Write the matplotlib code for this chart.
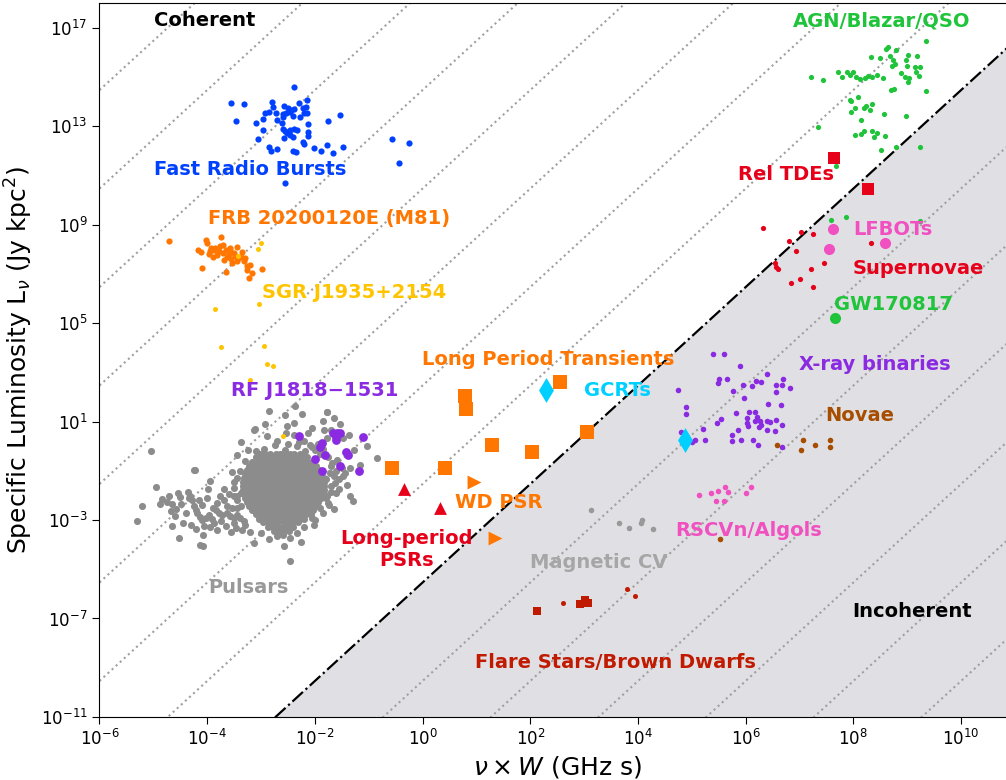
import numpy as np
import matplotlib
matplotlib.use("Agg")
import matplotlib.pyplot as plt
from matplotlib.ticker import FixedLocator, NullLocator

# all values are (log10 nu*W [GHz s], log10 L [Jy kpc^2])
frb = [(-2.38, 14.58), (-3.56, 13.93), (-3.32, 13.90), (-2.80, 13.97), (-2.77, 13.79), (-2.58, 13.82),
       (-2.50, 13.73), (-2.44, 13.66), (-2.38, 13.69), (-2.30, 13.95), (-2.14, 14.06), (-2.17, 13.79),
       (-2.22, 13.74), (-2.20, 13.52), (-2.15, 13.52), (-2.86, 13.58), (-2.93, 13.52), (-2.72, 13.52),
       (-2.60, 13.47), (-2.53, 13.52), (-2.46, 13.56), (-2.96, 13.28), (-2.70, 13.25), (-2.59, 13.36),
       (-2.41, 13.39), (-2.27, 13.35), (-3.46, 13.22), (-3.10, 13.12), (-2.62, 13.12), (-2.12, 13.08),
       (-1.75, 13.22), (-1.54, 13.44), (-2.96, 12.85), (-2.60, 12.87), (-2.55, 12.78), (-2.46, 12.85),
       (-2.38, 12.87), (-2.33, 12.85), (-2.52, 12.71), (-2.46, 12.64), (-2.57, 12.51), (-2.41, 12.55),
       (-2.12, 12.74), (-2.13, 12.58), (-3.06, 12.47), (-2.23, 12.37), (-2.21, 12.26), (-2.86, 12.13),
       (-2.82, 11.99), (-2.71, 12.06), (-2.41, 11.99), (-2.36, 11.93), (-2.01, 12.09), (-1.88, 11.99),
       (-1.78, 12.22), (-1.67, 11.91), (-1.48, 12.16), (-2.56, 10.68), (-0.56, 12.47), (-0.25, 12.33),
       (-0.43, 11.48)]

m81 = [(-4.70, 8.35), (-4.03, 8.38), (-4.00, 8.27), (-3.74, 8.49), (-4.18, 7.98), (-4.11, 7.87),
       (-3.97, 7.81), (-3.93, 8.04), (-3.88, 7.95), (-3.82, 7.77), (-3.76, 8.11), (-3.71, 8.18),
       (-3.66, 7.95), (-3.63, 7.70), (-3.57, 8.04), (-3.51, 7.84), (-3.45, 8.08), (-3.42, 7.64),
       (-3.35, 7.87), (-3.32, 7.50), (-3.54, 7.43), (-3.45, 7.50), (-3.27, 7.33), (-3.21, 7.37),
       (-3.26, 7.16), (-3.17, 7.03), (-3.23, 6.83), (-2.99, 7.19), (-4.09, 7.23), (-3.66, 7.06),
       (-3.79, 7.91), (-3.60, 7.81), (-3.69, 7.57), (-3.38, 7.70), (-3.94, 7.91), (-3.85, 8.05),
       (-3.58, 7.95), (-3.48, 7.72), (-3.70, 7.85), (-3.90, 7.70), (-3.30, 7.65), (-3.55, 7.60)]

sgr = [(-3.01, 8.27), (-3.06, 8.00), (-3.04, 5.76), (-3.85, 5.57), (-3.75, 4.01), (-2.94, 4.05),
       (-2.89, 3.34), (-2.77, 3.24), (-3.20, 2.70), (-2.59, 0.40), (-3.42, 7.73)]

rfj = [(-2.30, 0.40), (-1.67, 0.53), (-1.59, 0.53), (-1.54, 0.53), (-1.60, 0.24), (-1.87, 0.13),
       (-1.90, -0.03), (-1.42, -0.25), (-1.39, -0.34), (-1.81, -0.37), (-2.00, -0.52), (-1.54, -0.82),
       (-1.86, -1.02), (-1.18, -1.02), (-1.10, 0.37), (-1.60, 0.37)]

psr_outer = [(-5.30, -3.05), (-5.21, -2.44), (-5.05, -0.18), (-4.95, -1.67), (-4.83, -2.13), (-4.70, -2.04),
             (-4.66, -2.37), (-4.67, -2.64), (-4.65, -3.25), (-4.54, -1.90), (-4.52, -3.73), (-4.45, -3.12),
             (-4.33, -2.10), (-4.31, -3.19), (-4.24, -0.98), (-4.20, -2.58), (-4.16, -2.17), (-4.13, -4.03),
             (-4.08, -4.07), (-4.08, -3.59), (-4.06, -3.25), (-3.97, -2.78), (-3.94, -1.43), (-3.84, -2.58),
             (-3.82, -3.39), (-3.72, -2.78), (-3.69, -2.17), (-3.63, -2.71), (-3.51, -1.47), (-3.50, -2.91),
             (-3.46, -3.32), (-3.45, -2.04), (-4.32, -2.04), (-4.28, -2.17), (-4.19, -2.71), (-4.14, -2.87),
             (-4.09, -2.98), (-4.03, -2.91), (-3.91, -2.95), (-3.88, -3.12), (-3.82, -2.30), (-3.77, -2.04),
             (-3.69, -1.76), (-3.63, -2.44), (-3.58, -2.85), (-3.54, -2.51), (-3.51, -2.04), (-3.51, -3.12),
             (-3.45, -2.17), (-3.45, -2.78), (-3.38, -1.90), (-3.38, -2.44), (-3.35, -3.39), (-3.32, -3.05),
             (-4.75, -2.25), (-4.58, -2.55), (-4.48, -2.35), (-4.40, -2.70), (-4.36, -1.85), (-4.25, -2.45),
             (-4.10, -2.40), (-4.00, -2.10), (-3.95, -3.30), (-3.90, -2.50), (-3.78, -2.70), (-3.74, -3.05),
             (-3.66, -3.25), (-3.60, -1.95), (-3.55, -3.50), (-4.60, -2.85), (-4.88, -2.35), (-4.50, -2.05),
             (-4.20, -3.35), (-3.98, -1.75),
             (-2.85, 1.41), (-2.55, 1.28), (-2.24, 1.32), (-1.78, 1.37), (-1.65, 1.14), (-1.54, 0.90),
             (-1.85, 1.01), (-2.05, 0.74), (-2.12, 0.53), (-2.39, 0.94), (-2.52, 0.81), (-3.12, 0.70),
             (-2.92, 0.91), (-2.89, 0.43), (-2.70, 0.20), (-2.53, 0.53), (-2.55, -0.14), (-2.38, 0.47),
             (-2.33, -0.01), (-2.21, 0.20), (-2.18, -0.21), (-2.09, 0.06), (-1.99, -0.14), (-1.84, 0.67),
             (-1.78, 0.33), (-1.71, 0.67), (-1.47, 0.33), (-1.37, 0.47), (-1.28, -0.14), (-1.16, -0.75),
             (-1.03, -0.01), (-0.85, -0.48), (-3.37, 0.16), (-3.24, -0.14), (-3.45, -0.38), (-3.54, -1.06),
             (-4.23, -0.98), (-1.29, -2.21), (-1.73, -2.39), (-2.02, -3.19), (-2.25, -3.90), (-2.58, -4.07),
             (-2.33, -3.52), (-2.86, -3.79), (-3.01, -3.52), (-3.14, -3.93), (-2.70, -3.66), (-2.46, -3.73),
             (-2.55, -3.39), (-2.21, -2.71), (-2.05, -2.91), (-1.71, -1.63), (-1.56, -1.76), (-1.47, -1.22),
             (-1.40, -1.56), (-1.65, -1.22), (-1.34, -0.89), (-1.59, -0.55), (-1.71, -0.82), (-1.34, -2.04),
             (-1.78, -2.04), (-2.46, -4.67), (-2.37, 1.64), (-3.14, 0.67), (-1.78, 1.39),
             (-1.75, -0.45), (-1.68, -0.70), (-1.60, -1.00), (-1.72, -1.10), (-1.55, -1.35), (-1.80, -1.35),
             (-1.62, -1.50), (-1.50, -0.90), (-1.45, -1.10), (-1.70, -1.85), (-1.60, -1.90), (-1.75, -2.30),
             (-1.65, -2.55), (-1.85, -2.70), (-1.90, -0.30), (-1.85, -0.10), (-1.95, 0.10), (-2.05, -0.05),
             (-2.30, 0.15), (-2.50, 0.10), (-2.75, 0.05), (-2.95, -0.10), (-3.10, -0.20), (-3.30, -0.60),
             (-3.40, -1.00), (-3.45, -1.30), (-3.50, -1.70), (-3.45, -2.50), (-3.40, -2.90), (-3.30, -3.20),
             (-3.20, -3.50), (-2.60, -3.60), (-2.20, -3.30), (-2.00, -3.00), (-1.90, -2.50), (-1.80, -2.10)]

# dense pulsar core, one row of log L per entry
psr_core_y = [-0.30, -0.46, -0.63, -0.79, -0.96, -1.12, -1.29, -1.45, -1.62, -1.78,
              -1.95, -2.11, -2.28, -2.44, -2.61, -2.77, -2.94, -3.10, -3.27, -3.43]
psr_core_x = [
    [-3.02, -2.92, -2.84, -2.73, -2.65, -2.55, -2.46, -2.38, -2.28, -2.21],
    [-3.10, -3.00, -2.91, -2.81, -2.72, -2.62, -2.53, -2.44, -2.35, -2.25, -2.15],
    [-3.16, -3.06, -2.97, -2.87, -2.78, -2.68, -2.59, -2.50, -2.40, -2.31, -2.21, -2.12, -2.04],
    [-3.22, -3.12, -3.03, -2.93, -2.84, -2.74, -2.65, -2.56, -2.46, -2.37, -2.27, -2.18, -2.08, -1.98],
    [-3.26, -3.16, -3.07, -2.98, -2.88, -2.79, -2.69, -2.60, -2.51, -2.41, -2.32, -2.22, -2.13, -2.03, -1.93],
    [-3.29, -3.20, -3.10, -3.01, -2.91, -2.82, -2.73, -2.63, -2.54, -2.44, -2.35, -2.26, -2.16, -2.07, -1.97, -1.89],
    [-3.31, -3.22, -3.13, -3.03, -2.94, -2.84, -2.75, -2.66, -2.56, -2.47, -2.37, -2.28, -2.19, -2.09, -2.00, -1.91, -1.84],
    [-3.33, -3.24, -3.14, -3.05, -2.95, -2.86, -2.77, -2.67, -2.58, -2.48, -2.39, -2.30, -2.20, -2.11, -2.01, -1.92, -1.83],
    [-3.34, -3.25, -3.15, -3.06, -2.97, -2.87, -2.78, -2.68, -2.59, -2.50, -2.40, -2.31, -2.21, -2.12, -2.03, -1.93, -1.84],
    [-3.33, -3.24, -3.14, -3.05, -2.96, -2.86, -2.77, -2.67, -2.58, -2.49, -2.39, -2.30, -2.20, -2.11, -2.02, -1.92, -1.83],
    [-3.32, -3.23, -3.13, -3.04, -2.94, -2.85, -2.76, -2.66, -2.57, -2.47, -2.38, -2.29, -2.19, -2.10, -2.00, -1.91, -1.83],
    [-3.30, -3.20, -3.11, -3.01, -2.92, -2.83, -2.73, -2.64, -2.54, -2.45, -2.36, -2.26, -2.17, -2.07, -1.98, -1.88],
    [-3.26, -3.17, -3.07, -2.98, -2.89, -2.79, -2.70, -2.60, -2.51, -2.42, -2.32, -2.23, -2.13, -2.04, -1.94],
    [-3.22, -3.12, -3.03, -2.94, -2.84, -2.75, -2.65, -2.56, -2.47, -2.37, -2.28, -2.18, -2.09, -2.00],
    [-3.16, -3.07, -2.97, -2.88, -2.78, -2.69, -2.60, -2.50, -2.41, -2.31, -2.22, -2.13, -2.04],
    [-3.10, -3.00, -2.91, -2.82, -2.72, -2.63, -2.53, -2.44, -2.35, -2.25, -2.16, -2.08],
    [-3.04, -2.94, -2.85, -2.75, -2.66, -2.57, -2.47, -2.38, -2.28, -2.20],
    [-2.96, -2.87, -2.77, -2.68, -2.58, -2.49, -2.40, -2.31],
    [-2.88, -2.78, -2.69, -2.60, -2.50, -2.41],
    [-2.76, -2.67, -2.57, -2.48],
]

lpt = [(0.78, 2.05), (0.81, 1.52), (2.55, 2.59), (1.29, 0.06), (2.03, -0.22), (3.05, 0.59),
       (0.41, -0.87), (-0.56, -0.87)]
lp_psr = [(-0.34, -1.76), (0.33, -2.51)]
wd_psr = [(0.96, -1.45), (1.35, -3.75)]
gcrt = [(2.29, 2.27), (4.88, 0.26)]

agn = [(9.34, 16.47), (8.64, 16.20), (8.61, 16.12), (8.32, 15.80), (8.49, 15.75), (8.68, 15.85),
       (8.74, 15.69), (8.80, 16.09), (9.02, 15.89), (9.19, 15.86), (8.97, 15.69), (8.71, 15.42),
       (8.78, 15.52), (8.99, 15.44), (9.15, 15.38), (9.24, 15.38), (8.89, 15.15), (8.95, 15.01),
       (9.03, 14.94), (9.01, 14.81), (9.17, 15.21), (9.22, 15.04), (7.22, 15.01), (7.43, 14.87),
       (7.72, 15.21), (7.78, 15.01), (7.89, 15.21), (7.93, 15.08), (7.99, 15.21), (8.04, 15.01),
       (8.12, 14.90), (8.21, 14.94), (8.27, 15.05), (8.34, 15.01), (8.43, 15.08), (8.55, 14.94),
       (8.69, 14.47), (8.76, 14.51), (9.34, 14.44), (7.93, 14.06), (7.96, 14.02), (8.09, 14.20),
       (8.03, 13.73), (7.96, 13.59), (8.20, 13.75), (8.24, 13.82), (8.35, 13.90), (8.30, 13.66),
       (8.57, 13.48), (8.97, 13.39), (8.15, 13.25), (7.35, 12.98), (8.03, 12.64), (8.15, 12.67),
       (8.20, 12.78), (8.34, 12.78), (8.38, 12.55), (8.43, 12.71), (8.58, 12.58), (8.51, 12.01),
       (8.79, 12.13), (9.24, 12.13), (7.67, 11.36), (7.58, 9.19), (7.87, 9.29), (9.23, 9.16)]
rel_tde = [(7.64, 11.70), (8.27, 10.44)]
lfbot = [(7.62, 8.83), (7.54, 8.00), (8.58, 8.25)]
gw = [(7.66, 5.19)]
sne = [(6.33, 8.84), (7.02, 8.68), (7.25, 8.61), (6.81, 8.35), (6.93, 7.91), (6.54, 7.43),
       (6.57, 7.27), (6.60, 7.19), (7.21, 7.19), (7.45, 7.43), (6.84, 6.62), (7.01, 6.77),
       (7.25, 6.45), (8.32, 8.25)]

xrb = [(5.39, 3.75), (5.60, 3.75), (5.90, 3.24), (6.39, 2.93), (5.51, 2.74), (5.49, 2.56),
       (5.66, 2.73), (5.95, 2.47), (6.12, 2.43), (6.20, 2.66), (6.28, 2.59), (6.57, 2.47),
       (6.67, 2.50), (6.70, 2.71), (6.83, 2.35), (6.56, 2.19), (5.76, 2.23), (5.97, 1.96),
       (4.75, 2.28), (4.90, 1.58), (4.89, 1.31), (6.42, 1.73), (6.65, 1.69), (5.82, 1.35),
       (6.07, 1.37), (6.18, 1.37), (6.21, 1.19), (6.03, 1.15), (5.54, 1.10), (5.47, 0.94),
       (6.02, 0.94), (6.05, 0.81), (6.17, 1.01), (6.26, 1.01), (6.39, 1.01), (6.45, 0.97),
       (6.57, 1.05), (6.67, 0.86), (6.25, 0.78), (6.28, 0.87), (6.39, 0.64), (6.54, 0.62),
       (5.85, 0.67), (5.21, 0.70), (4.79, 0.56), (5.06, 0.26), (5.24, 0.26), (5.74, 0.45),
       (5.74, 0.22), (5.91, 0.24), (6.14, 0.24), (6.22, 0.05), (6.68, -0.02), (5.00, 0.15)]
novae = [(6.58, 0.06), (7.02, -0.15), (7.07, 0.24), (7.29, 0.03), (7.57, 0.26), (7.57, -0.02),
         (5.53, -3.78)]
rscvn = [(5.13, -1.99), (5.35, -1.90), (5.49, -1.82), (5.62, -1.64), (5.67, -1.87), (5.45, -2.24),
         (5.60, -2.21), (6.01, -1.91), (6.09, -1.66)]
mcv = [(3.13, -2.59), (3.64, -3.12), (3.84, -3.33), (4.05, -3.12), (4.08, -2.98), (4.27, -3.36)]
flare_sq = [(2.13, -6.69), (2.92, -6.43), (3.02, -6.23), (3.08, -6.36)]
flare_dot = [(2.61, -6.36), (3.79, -5.80), (3.95, -6.09)]

# brightness temperature lines, log10 T_B [K]
tb_coherent = 12
tb_dotted = [-16, -12, -8, -4, 0, 4, 8, 16, 20, 24, 28, 32, 36, 40, 44]

x_ticks = [1e-6, 1e-4, 1e-2, 1e0, 1e2, 1e4, 1e6, 1e8, 1e10]
y_ticks = [1e-11, 1e-7, 1e-3, 1e1, 1e5, 1e9, 1e13, 1e17]

blue = '#0040ff'
orange = '#ff7700'
gold = '#ffc400'
purple = '#8a2be2'
grey = '#8c8c8c'
red = '#e6001a'
cyan = '#00d0ff'
green = '#1fc43a'
pink = '#f050c0'
brown = '#a64d00'
darkred = '#c01a00'

labels = [
    ("Coherent", -4.98, 17.29, 'black', 'left'),
    ("Fast Radio Bursts", -3.21, 11.24, blue, 'center'),
    ("FRB 20200120E (M81)", -3.98, 9.23, orange, 'left'),
    ("SGR J1935+2154", -2.98, 6.25, gold, 'left'),
    ("RF J1818\u22121531", -2.01, 2.27, purple, 'center'),
    ("Pulsars", -3.24, -5.74, '#999999', 'center'),
    ("Long-period\nPSRs", -0.30, -4.20, red, 'center'),
    ("Long Period Transients", 2.33, 3.53, orange, 'center'),
    ("GCRTs", 3.61, 2.25, cyan, 'center'),
    ("WD PSR", 1.42, -2.29, orange, 'center'),
    ("Magnetic CV", 3.28, -4.73, '#a6a6a6', 'center'),
    ("Flare Stars/Brown Dwarfs", 3.59, -8.77, darkred, 'center'),
    ("Incoherent", 9.09, -6.72, 'black', 'center'),
    ("AGN/Blazar/QSO", 8.53, 17.25, green, 'center'),
    ("Rel TDEs", 6.75, 11.04, red, 'center'),
    ("LFBOTs", 8.73, 8.81, pink, 'center'),
    ("Supernovae", 9.20, 7.20, red, 'center'),
    ("GW170817", 8.75, 5.74, green, 'center'),
    ("X-ray binaries", 8.40, 3.31, purple, 'center'),
    ("Novae", 8.11, 1.26, brown, 'center'),
    ("RSCVn/Algols", 6.06, -3.43, pink, 'center'),
]


def unlog(pts):
    a = 10.0 ** np.array(pts, dtype=float)
    return a[:, 0], a[:, 1]


fig = plt.figure(figsize=(10.06, 7.8), dpi=100)
ax = fig.add_axes([0.0989, 0.0808, 0.910, 0.9154])
ax.set_xscale('log')
ax.set_yscale('log')
ax.set_xlim(1e-6, 1e11)
ax.set_ylim(1e-11, 1e18)

# L = 2 k T_B (nu W)^2 / (Jy kpc^2)
k_B = 1.380649e-23
jy_kpc2 = 1e-26 * 3.0857e19 ** 2
tb_coef = 2 * k_B * 1e18 / jy_kpc2
xx = np.logspace(-6, 11, 300)
coh = tb_coef * 10.0 ** tb_coherent * xx ** 2
ax.fill_between(xx, coh, 1e-11, color='#e0e0e4', lw=0, zorder=0)
for p in tb_dotted:
    ax.plot(xx, tb_coef * 10.0 ** p * xx ** 2, ':', color='#a0a0a0', lw=1.5, zorder=1)
ax.plot(xx, coh, '-.', color='black', lw=1.6, zorder=2)

core_x = [x for row in psr_core_x for x in row]
core_y = [y for y, row in zip(psr_core_y, psr_core_x) for _ in row]
core = list(zip(core_x, core_y))

x, y = unlog(psr_outer + core)
ax.scatter(x, y, s=26, color=grey, lw=0, zorder=3)
x, y = unlog(rfj)
ax.scatter(x, y, s=40, color=purple, lw=0, zorder=4)
x, y = unlog(frb)
ax.scatter(x, y, s=20, color=blue, lw=0, zorder=3)
x, y = unlog(m81)
ax.scatter(x, y, s=20, color=orange, lw=0, zorder=3)
x, y = unlog(sgr)
ax.scatter(x, y, s=13, color=gold, lw=0, zorder=4)
x, y = unlog(lpt)
ax.scatter(x, y, s=110, marker='s', color=orange, lw=0, zorder=4)
x, y = unlog(lp_psr)
ax.scatter(x, y, s=85, marker='^', color=red, lw=0, zorder=4)
x, y = unlog(wd_psr)
ax.scatter(x, y, s=100, marker='>', color=orange, lw=0, zorder=4)
x, y = unlog(agn)
ax.scatter(x, y, s=14, color=green, lw=0, zorder=3)
x, y = unlog(sne)
ax.scatter(x, y, s=14, color=red, lw=0, zorder=3)
x, y = unlog(rel_tde)
ax.scatter(x, y, s=64, marker='s', color=red, lw=0, zorder=4)
x, y = unlog(lfbot)
ax.scatter(x, y, s=64, color=pink, lw=0, zorder=4)
x, y = unlog(gw)
ax.scatter(x, y, s=64, color=green, lw=0, zorder=4)
x, y = unlog(xrb)
ax.scatter(x, y, s=16, color=purple, lw=0, zorder=3)
x, y = unlog(novae)
ax.scatter(x, y, s=16, color=brown, lw=0, zorder=3)
x, y = unlog(rscvn)
ax.scatter(x, y, s=16, color=pink, lw=0, zorder=3)
x, y = unlog(mcv)
ax.scatter(x, y, s=16, color='#999999', lw=0, zorder=3)
x, y = unlog(flare_sq)
ax.scatter(x, y, s=40, marker='s', color=darkred, lw=0, zorder=3)
x, y = unlog(flare_dot)
ax.scatter(x, y, s=13, color=darkred, lw=0, zorder=3)
x, y = unlog(gcrt)
ax.scatter(x, y, s=160, marker='d', color=cyan, lw=0, zorder=5)

for txt, lx, ly, c, ha in labels:
    ax.text(10 ** lx, 10 ** ly, txt, color=c, ha=ha, va='center',
            fontsize=14, fontweight='bold', zorder=6)

ax.xaxis.set_major_locator(FixedLocator(x_ticks))
ax.yaxis.set_major_locator(FixedLocator(y_ticks))
ax.xaxis.set_minor_locator(NullLocator())
ax.yaxis.set_minor_locator(NullLocator())
ax.tick_params(labelsize=12, length=5)
ax.set_xlabel(r'$\nu \times W$ (GHz s)', fontsize=18)
ax.set_ylabel(r'Specific Luminosity L$_\nu$ (Jy kpc$^2$)', fontsize=18)

fig.savefig('out.png', dpi=100)
